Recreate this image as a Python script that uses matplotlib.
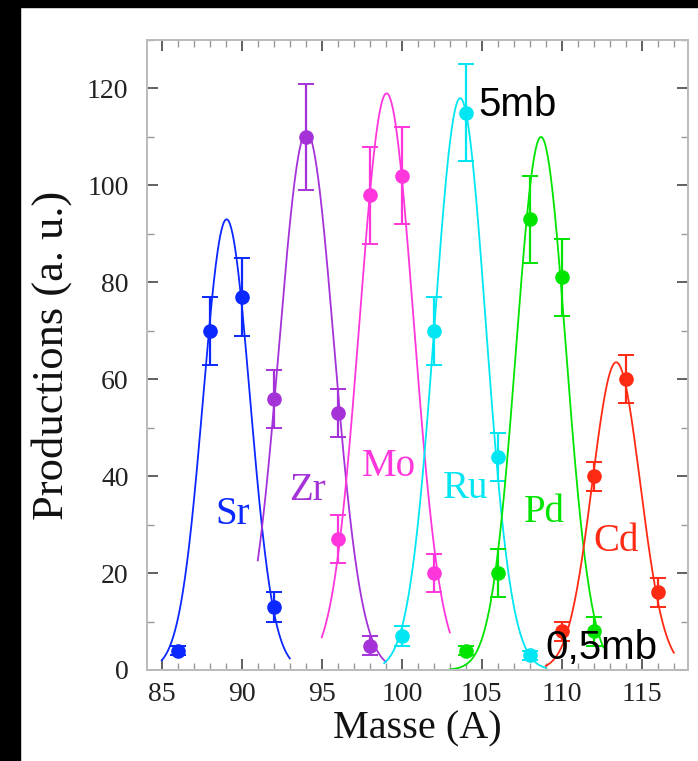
import numpy as np
import matplotlib
matplotlib.use("Agg")
import matplotlib.pyplot as plt
from matplotlib.patches import Rectangle
from matplotlib.ticker import MultipleLocator

# elements, colours and label positions
elements = ["Sr", "Zr", "Mo", "Ru", "Pd", "Cd"]
colors = ["#0a28ff", "#a532d8", "#ff36dc", "#00e6f2", "#00e400", "#ff2a14"]
label_x = [89.4, 94.1, 99.2, 104.0, 108.9, 113.4]
label_y = [32, 37, 42, 37.5, 32.5, 26.5]

# measured productions (a. u.)
mass = [
    [86, 88, 90, 92],
    [92, 94, 96, 98],
    [96, 98, 100, 102],
    [100, 102, 104, 106, 108],
    [104, 106, 108, 110, 112],
    [110, 112, 114, 116],
]
prod = [
    [4, 70, 77, 13],
    [56, 110, 53, 5],
    [27, 98, 102, 20],
    [7, 70, 115, 44, 3],
    [4, 20, 93, 81, 8],
    [8, 40, 60, 16],
]
err = [
    [1, 7, 8, 3],
    [6, 11, 5, 2],
    [5, 10, 10, 4],
    [2, 7, 10, 5, 1],
    [1, 5, 9, 8, 3],
    [2, 3, 5, 3],
]

# gaussian fits
fit_center = [89.05, 94.05, 99.05, 103.65, 108.7, 113.4]
fit_sigma = [1.46, 1.71, 1.69, 1.60, 1.55, 1.50]
fit_amp = [93, 111, 119, 118, 110, 63.5]
fit_xmin = [85.0, 91.0, 95.0, 98.9, 103.0, 109.0]
fit_xmax = [93.0, 99.0, 103.0, 109.0, 112.6, 117.0]

fig = plt.figure(figsize=(6.98, 7.61), dpi=100)
ax = fig.add_axes([0.210, 0.1196, 0.776, 0.8278])

serif = ["Liberation Serif", "DejaVu Serif"]

for i, el in enumerate(elements):
    c = colors[i]
    xs = np.linspace(fit_xmin[i], fit_xmax[i], 200)
    ys = fit_amp[i] * np.exp(-(xs - fit_center[i]) ** 2 / (2 * fit_sigma[i] ** 2))
    ax.plot(xs, ys, color=c, lw=1.3)
    ax.errorbar(mass[i], prod[i], yerr=err[i], fmt="o", color=c, ms=9.5,
                elinewidth=1.6, capsize=6, capthick=1.4, ecolor=c)
    ax.text(label_x[i], label_y[i], el, color=c, fontsize=28, family=serif,
            ha="center", va="center")

ax.text(104.8, 116.5, "5mb", fontsize=29, family="Liberation Sans", va="center", ha="left")
ax.text(109.0, 4.5, "0,5mb", fontsize=29, family="Liberation Sans", va="center", ha="left")

ax.set_xlim(84.05, 117.9)
ax.set_ylim(0, 130)
ax.xaxis.set_major_locator(MultipleLocator(5))
ax.xaxis.set_minor_locator(MultipleLocator(1))
ax.yaxis.set_major_locator(MultipleLocator(20))
ax.yaxis.set_minor_locator(MultipleLocator(10))
ax.tick_params(which="both", direction="in", top=True, right=True,
               labelsize=20, labelcolor="#222222")
ax.tick_params(which="major", length=8, width=1.3, color="#555555")
ax.tick_params(which="minor", length=5, width=1.0, color="#999999")
ax.tick_params(axis="y", pad=13)
ax.tick_params(axis="x", pad=9)
for lab in ax.get_xticklabels() + ax.get_yticklabels():
    lab.set_family(serif)
for sp in ax.spines.values():
    sp.set_color("#bbbbbb")
    sp.set_linewidth(1.4)

ax.set_xlabel("Masse (A)", fontsize=29, family=serif, labelpad=2, color="#111111")
ax.set_ylabel("Productions (a. u.)", fontsize=32, family=serif, labelpad=11, color="#111111")

# black frame from the screenshot
fig.add_artist(Rectangle((0, 0), 20 / 698, 1, transform=fig.transFigure, color="black", zorder=10))
fig.add_artist(Rectangle((0, 1 - 7 / 761), 1, 7 / 761, transform=fig.transFigure, color="black", zorder=10))

fig.savefig("out.png", dpi=100)
